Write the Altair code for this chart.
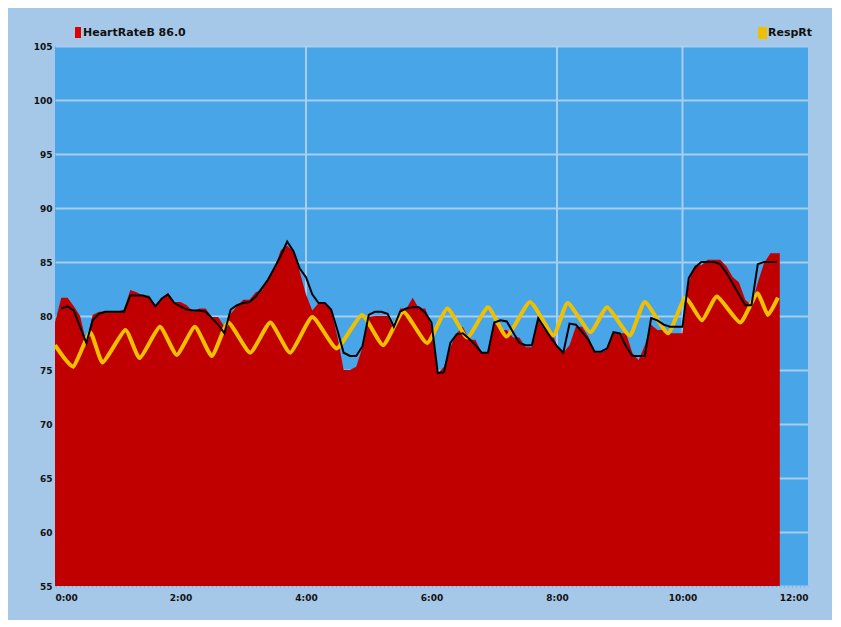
import altair as alt
import pandas as pd

# ---- data ----
hr_time = [round(i * 0.1, 1) for i in range(116)] + [11.55]
hr_values = [
    79.4, 81.7, 81.7, 80.9, 80.0, 77.5, 80.1, 80.4, 80.4, 80.4,
    80.4, 80.6, 82.4, 82.2, 81.9, 81.9, 80.9, 81.7, 82.1, 81.3,
    81.3, 81.0, 80.4, 80.7, 80.7, 79.9, 79.9, 79.0, 80.2, 80.9,
    81.5, 81.5, 82.2, 82.4, 83.6, 84.5, 86.1, 86.5, 86.0, 84.1,
    82.0, 80.5, 81.2, 81.2, 80.5, 78.1, 75.0, 75.0, 75.3, 77.1,
    79.9, 80.0, 80.0, 80.0, 78.7, 80.7, 80.7, 81.7, 80.7, 80.7,
    79.0, 74.7, 75.3, 77.1, 78.4, 79.0, 77.8, 77.8, 76.6, 76.6,
    79.4, 78.7, 78.7, 78.0, 78.0, 77.1, 77.1, 79.6, 78.7, 78.7,
    77.3, 76.6, 77.3, 79.0, 79.0, 78.1, 76.6, 76.6, 76.9, 78.4,
    78.4, 78.4, 76.6, 75.9, 77.3, 79.2, 78.7, 78.7, 78.4, 78.4,
    78.4, 83.1, 84.7, 84.7, 85.2, 85.2, 85.2, 84.6, 83.6, 83.1,
    81.5, 81.0, 83.1, 84.9, 85.8, 85.8,
    85.8,
]

trend_time = [round(i * 0.1, 1) for i in range(1, 116)]
trend_values = [
    80.7, 80.9, 80.5, 79.0, 77.5, 79.6, 80.2, 80.4, 80.4,
    80.4, 80.4, 81.9, 81.9, 81.9, 81.7, 80.9, 81.6, 82.0, 81.2,
    80.9, 80.6, 80.5, 80.5, 80.4, 79.8, 79.2, 78.4, 80.6, 81.0,
    81.2, 81.3, 81.8, 82.6, 83.4, 84.5, 85.6, 86.9, 86.0, 84.4,
    83.6, 82.0, 81.2, 81.2, 80.6, 78.7, 76.6, 76.3, 76.3, 77.2,
    80.1, 80.4, 80.4, 80.2, 79.0, 80.4, 80.7, 80.8, 80.8, 80.3,
    79.4, 74.7, 74.8, 77.5, 78.3, 78.4, 77.9, 77.3, 76.6, 76.6,
    79.4, 79.6, 79.5, 78.5, 77.5, 77.3, 77.3, 79.8, 78.9, 78.0,
    77.2, 76.6, 79.3, 79.2, 78.5, 77.8, 76.7, 76.7, 77.0, 78.5,
    78.4, 77.2, 76.3, 76.3, 76.3, 79.8, 79.6, 79.2, 79.0, 79.0,
    79.0, 83.5, 84.5, 85.0, 85.0, 85.0, 84.8, 84.0, 83.0, 82.0,
    81.0, 81.0, 84.8, 85.0, 85.0, 85.0,
]

resp_time = [
    0.00, 0.29, 0.56, 0.76, 1.12, 1.35, 1.67, 1.94, 2.23, 2.50,
    2.76, 3.11, 3.43, 3.75, 4.10, 4.49, 4.89, 5.23, 5.55, 5.93,
    6.25, 6.57, 6.90, 7.20, 7.57, 7.94, 8.17, 8.53, 8.80, 9.16,
    9.40, 9.77, 10.04, 10.31, 10.55, 10.92, 11.19, 11.36, 11.52,
]
resp_values = [
    77.3, 75.3, 78.5, 75.7, 78.7, 76.1, 79.0, 76.4, 79.0, 76.3,
    79.4, 76.6, 79.4, 76.6, 79.9, 77.0, 80.1, 77.3, 80.4, 77.5,
    80.7, 78.0, 80.8, 78.1, 81.3, 78.2, 81.2, 78.5, 80.8, 78.2,
    81.3, 78.4, 81.7, 79.6, 81.8, 79.4, 82.1, 80.1, 81.7,
]

x_tick_values = [0, 2, 4, 6, 8, 10, 12]
x_tick_labels = ["0:00", "2:00", "4:00", "6:00", "8:00", "10:00", "12:00"]
x_grid_hours = [4, 8, 10]
y_tick_values = [55, 60, 65, 70, 75, 80, 85, 90, 95, 100, 105]

legend_hr = "HeartRateB 86.0"
legend_resp = "RespRt"

# ---- styling ----
OUTER_BG = "#a6c8e8"
PLOT_BG = "#47a5e8"
GRID = "#a9cdf0"
RED = "#c00000"
YELLOW = "#f0c000"
FONT = "DejaVu Sans"

hr_df = pd.DataFrame({"t": hr_time, "hr": hr_values})
trend_df = pd.DataFrame({"t": trend_time, "v": trend_values})
resp_df = pd.DataFrame({"t": resp_time, "v": resp_values})
grid_df = pd.DataFrame({"t": x_grid_hours})
one_df = pd.DataFrame({"a": [0]})

x_scale = alt.Scale(domain=[0, 12], nice=False, zero=False)
y_scale = alt.Scale(domain=[55, 105], nice=False, zero=False)

label_arr = "[" + ",".join("'" + s + "'" for s in x_tick_labels) + "]"
x_axis = alt.Axis(
    values=x_tick_values,
    labelExpr=label_arr + "[indexof(" + str(x_tick_values) + ", datum.value)]",
    grid=False, ticks=False, domain=True, domainColor="#7fb6e6", domainDash=[2, 2],
    domainWidth=2, labelPadding=7, title=None,
    labelFont=FONT, labelFontSize=9, labelFontWeight="bold", labelColor="#111111",
)
y_axis = alt.Axis(
    values=y_tick_values, grid=True, gridColor=GRID, gridWidth=2,
    ticks=False, domain=False, labelPadding=3, title=None,
    labelFont=FONT, labelFontSize=9, labelFontWeight="bold", labelColor="#111111",
)

vgrid = alt.Chart(grid_df).mark_rule(color=GRID, strokeWidth=2).encode(
    x=alt.X("t:Q", scale=x_scale, axis=x_axis)
)

area = alt.Chart(hr_df).mark_area(color=RED, interpolate="linear").encode(
    x=alt.X("t:Q", scale=x_scale, axis=x_axis),
    y=alt.Y("hr:Q", scale=y_scale, axis=y_axis),
    y2=alt.datum(55),
)

resp = alt.Chart(resp_df).mark_line(
    color=YELLOW, strokeWidth=4, interpolate="cardinal", tension=0.5, strokeJoin="round"
).encode(
    x=alt.X("t:Q", scale=x_scale),
    y=alt.Y("v:Q", scale=y_scale),
)

trend = alt.Chart(trend_df).mark_line(color="#000000", strokeWidth=2).encode(
    x=alt.X("t:Q", scale=x_scale),
    y=alt.Y("v:Q", scale=y_scale),
)

leg_red_box = alt.Chart(one_df).mark_rect(color="#dd0000").encode(
    x=alt.value(20), x2=alt.value(26), y=alt.value(-19), y2=alt.value(-8)
)
leg_red_txt = alt.Chart(one_df).mark_text(
    text=legend_hr, align="left", baseline="middle", font=FONT,
    fontSize=11, fontWeight="bold", color="#111111"
).encode(x=alt.value(28), y=alt.value(-13))

leg_y_box = alt.Chart(one_df).mark_rect(color=YELLOW).encode(
    x=alt.value(703), x2=alt.value(712), y=alt.value(-19), y2=alt.value(-7)
)
leg_y_txt = alt.Chart(one_df).mark_text(
    text=legend_resp, align="left", baseline="middle", font=FONT,
    fontSize=11, fontWeight="bold", color="#111111"
).encode(x=alt.value(713), y=alt.value(-13))

chart = alt.layer(
    vgrid, area, resp, trend, leg_red_box, leg_red_txt, leg_y_box, leg_y_txt
).properties(
    width=753, height=540,
    padding={"left": 47, "top": 38, "right": 24, "bottom": 34},
    autosize=alt.AutoSizeParams(type="none"),
    background=OUTER_BG,
).configure_view(fill=PLOT_BG, stroke=None)

chart.save("out.html", embed_options={"renderer": "svg", "actions": False})
